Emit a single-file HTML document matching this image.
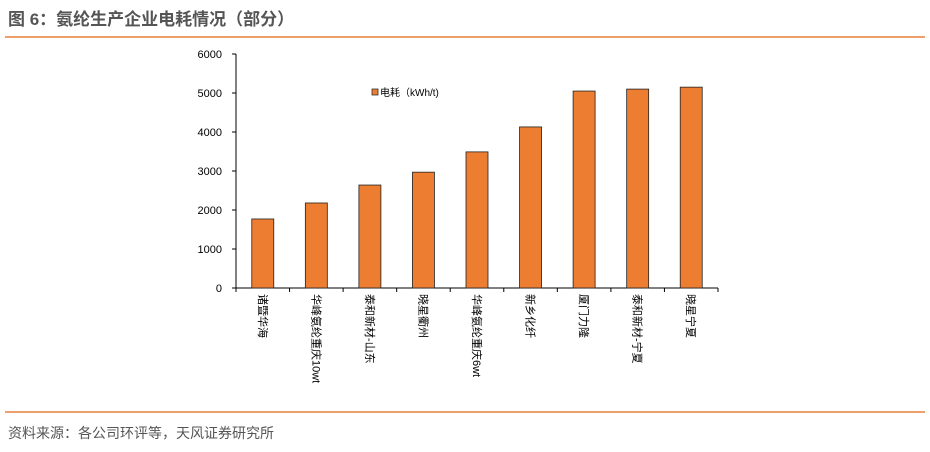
<!DOCTYPE html>
<html><head><meta charset="utf-8"><style>
body{margin:0;width:930px;height:447px;background:#fff;overflow:hidden;font-family:"Liberation Sans","Noto Sans CJK SC",sans-serif;}
</style></head><body>
<svg width="930" height="447" xmlns="http://www.w3.org/2000/svg" font-family="Liberation Sans, Noto Sans CJK SC, sans-serif">
<text x="8" y="25" font-size="17" font-weight="bold" fill="#555">图 6：氨纶生产企业电耗情况（部分）</text>
<line x1="5" y1="37" x2="925" y2="37" stroke="#E8803A" stroke-width="1.5"/>
<g id="chart"></g>
<g>
<rect x="372" y="89" width="6" height="6" fill="#ED7D31" stroke="#333" stroke-width="0.8"/>
<text x="380" y="96" font-size="10" fill="#000">电耗（kWh/t)</text>
</g>
<line x1="5" y1="412" x2="925" y2="412" stroke="#E8803A" stroke-width="1.5"/>
<text x="8" y="438" font-size="14" fill="#555">资料来源：各公司环评等，天风证券研究所</text>
</svg>
<script>
const categories=["诸暨华海","华峰氨纶重庆10wt","泰和新材-山东","晓星衢州","华峰氨纶重庆6wt","新乡化纤","厦门力隆","泰和新材-宁夏","晓星宁夏"];
const values=[1770,2180,2640,2970,3490,4130,5050,5100,5150];
const yTicks=[0,1000,2000,3000,4000,5000,6000];
const NS="http://www.w3.org/2000/svg";
const g=document.getElementById('chart');
const x0=236,x1=718,y0=288,y1=54,yMax=6000;
const y=v=>y0-(v/yMax)*(y0-y1);
const band=(x1-x0)/categories.length;
const xc=i=>x0+band*(i+0.5);
function mk(t,a){const e=document.createElementNS(NS,t);for(const k in a)e.setAttribute(k,a[k]);g.appendChild(e);return e;}
let ax=mk('line',{x1:x0,y1:y1,x2:x0,y2:y0,stroke:'#000','stroke-width':1});


yTicks.forEach(v=>{
 const tk=mk('line',{x1:x0-4,y1:y(v),x2:x0,y2:y(v),stroke:'#000'});
 
 
 const t=mk('text',{x:x0-14,y:y(v)+4,'font-size':11,'text-anchor':'end',fill:'#000'});
 t.textContent=v;
 
 
});
let xa=mk('line',{x1:x0,y1:y0,x2:x1,y2:y0,stroke:'#000'});


for(let i=0;i<=categories.length;i++){
 const tk=mk('line',{x1:x0+band*i,y1:y0,x2:x0+band*i,y2:y0+4,stroke:'#000'});
 
 
}
categories.forEach((c,i)=>{
 const bw=22;
 const r=mk('rect',{x:xc(i)-bw/2,y:y(values[i]),width:bw,height:y0-y(values[i]),fill:'#ED7D31',stroke:'#222','stroke-width':0.8});
 
 
 const t=mk('text',{x:0,y:0,'font-size':11,fill:'#000',transform:`translate(${xc(i)-4},${y0+6}) rotate(90)`});
 t.textContent=c;
 
 
});
</script>
</body></html>
